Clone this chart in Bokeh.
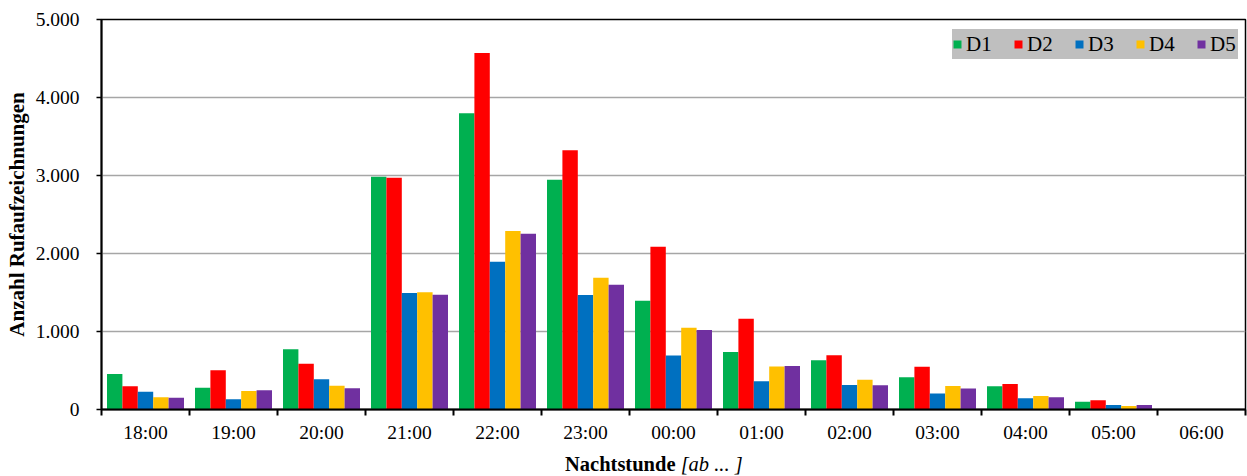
from bokeh.plotting import figure
from bokeh.models import (ColumnDataSource, Range1d, FixedTicker,
                          Legend, LegendItem, Div)
from bokeh.layouts import column
from bokeh.transform import dodge
from bokeh.embed import file_html
from bokeh.resources import INLINE

hours = ["18:00", "19:00", "20:00", "21:00", "22:00", "23:00", "00:00",
         "01:00", "02:00", "03:00", "04:00", "05:00", "06:00"]
series_names = ["D1", "D2", "D3", "D4", "D5"]
d1 = [455, 278, 772, 2985, 3797, 2945, 1395, 738, 632, 413, 297, 100, 0]
d2 = [298, 503, 585, 2970, 4570, 3323, 2085, 1162, 695, 547, 327, 118, 0]
d3 = [226, 132, 388, 1492, 1893, 1468, 692, 362, 314, 204, 145, 58, 0]
d4 = [157, 238, 306, 1502, 2290, 1688, 1047, 550, 380, 302, 173, 45, 0]
d5 = [150, 247, 272, 1470, 2252, 1598, 1020, 558, 310, 268, 157, 58, 0]
colors = ["#00B050", "#FF0000", "#0070C0", "#FFC000", "#7030A0"]
y_ticks = [0, 1000, 2000, 3000, 4000, 5000]
y_tick_labels = ["0", "1.000", "2.000", "3.000", "4.000", "5.000"]
x_title_bold = "Nachtstunde"
x_title_italic = "[ab ... ]"
y_title = "Anzahl Rufaufzeichnungen"

FONT = "Liberation Serif"

positions = list(range(1, len(hours) + 1))
src = ColumnDataSource(dict(x=positions, D1=d1, D2=d2, D3=d3, D4=d4, D5=d5))

p = figure(width=1247, height=450, output_backend="svg", toolbar_location=None,
           x_range=Range1d(0.5, len(hours) + 0.5), y_range=Range1d(0, 5000),
           min_border_left=101, min_border_top=19, min_border_bottom=41,
           min_border_right=2)
p.outline_line_color = "black"
p.outline_line_width = 1.5
p.background_fill_color = "white"
p.border_fill_color = "white"

bw = 0.175
offsets = [-2 * bw, -bw, 0, bw, 2 * bw]
items = []
for name, col, off in zip(series_names, colors, offsets):
    r = p.vbar(x=dodge("x", off), top=name, width=bw, source=src,
               fill_color=col, line_color=None)
    items.append(LegendItem(label=name, renderers=[r]))

# x axis
xa = p.xaxis[0]
xa.ticker = FixedTicker(ticks=positions,
                        minor_ticks=[i + 0.5 for i in range(0, len(hours) + 1)])
xa.major_label_overrides = {i: h for i, h in zip(positions, hours)}
xa.major_tick_out = 0
xa.major_tick_in = 0
xa.minor_tick_out = 6
xa.minor_tick_in = 0
xa.minor_tick_line_color = "black"
xa.minor_tick_line_width = 2
xa.axis_line_color = "black"
xa.axis_line_width = 2
xa.major_label_text_font = FONT
xa.major_label_text_font_size = "19.5px"
xa.major_label_text_color = "black"
xa.major_label_standoff = 6

# y axis
ya = p.yaxis[0]
ya.ticker = FixedTicker(ticks=y_ticks)
ya.major_label_overrides = {t: l for t, l in zip(y_ticks, y_tick_labels)}
ya.major_tick_out = 5
ya.major_tick_in = 0
ya.minor_tick_out = 0
ya.minor_tick_in = 0
ya.major_tick_line_color = "black"
ya.major_tick_line_width = 1.5
ya.axis_line_color = "black"
ya.axis_line_width = 2
ya.major_label_text_font = FONT
ya.major_label_text_font_size = "19.5px"
ya.major_label_text_color = "black"
ya.major_label_standoff = 17
ya.axis_label = y_title
ya.axis_label_text_font = FONT
ya.axis_label_text_font_size = "21px"
ya.axis_label_text_font_style = "bold"
ya.axis_label_text_color = "black"
ya.axis_label_standoff = 4

p.xgrid.visible = False
p.ygrid.grid_line_color = "#A6A6A6"
p.ygrid.grid_line_width = 1.3

legend = Legend(items=items, orientation="horizontal", location=(851, 350))
legend.margin = 0
legend.padding = 8
legend.spacing = 19
legend.label_standoff = 4
legend.glyph_width = 10
legend.glyph_height = 10
legend.label_width = 28
legend.label_text_font = FONT
legend.label_text_font_size = "21px"
legend.label_text_color = "black"
legend.label_height = 30
legend.background_fill_color = "#BFBFBF"
legend.background_fill_alpha = 1.0
legend.border_line_color = None
p.add_layout(legend, "center")

xtitle = Div(text=f"<b>{x_title_bold}</b> <i>{x_title_italic}</i>",
             width=300, height=26, margin=(3, 0, 0, 565),
             styles={"font-family": FONT, "font-size": "20.5px",
                     "line-height": "23px", "color": "black",
                     "white-space": "nowrap"})

layout = column(p, xtitle, spacing=0)
open("out.html", "w").write(file_html(layout, INLINE))
